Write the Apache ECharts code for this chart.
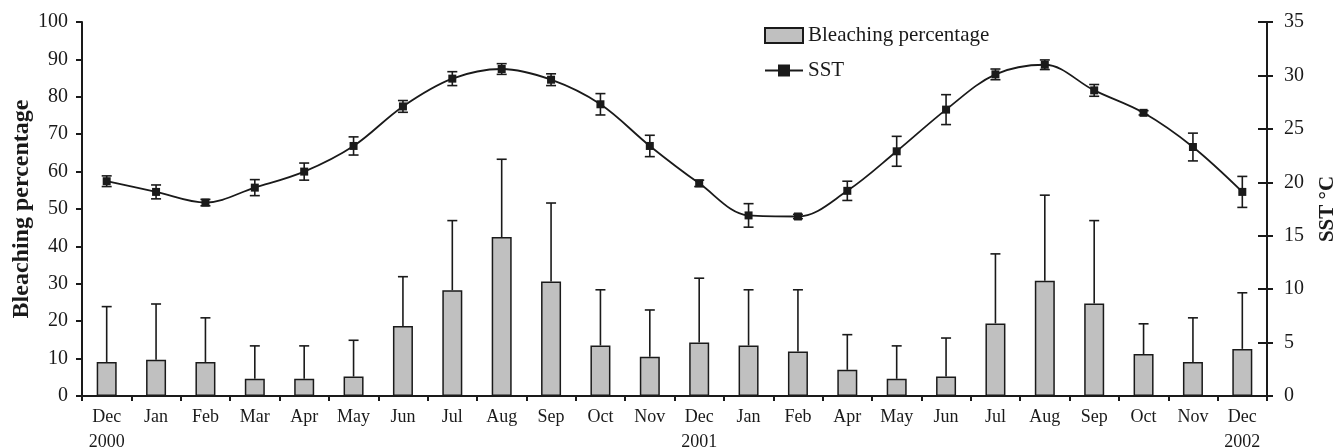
<!DOCTYPE html>
<html>
<head>
<meta charset="utf-8">
<script src="https://cdn.jsdelivr.net/npm/echarts@6/dist/echarts.min.js"></script>
<style>
  html, body { margin: 0; padding: 0; background: #fff; }
  #chart-container { width: 1337px; height: 448px; }
</style>
</head>
<body>
<div id="chart-container"></div>
<script>
var months = ['Dec\n2000', 'Jan', 'Feb', 'Mar', 'Apr', 'May', 'Jun', 'Jul', 'Aug', 'Sep', 'Oct', 'Nov',
  'Dec\n2001', 'Jan', 'Feb', 'Apr', 'May', 'Jun', 'Jul', 'Aug', 'Sep', 'Oct', 'Nov', 'Dec\n2002'];
var bleaching = [9.1, 9.7, 9.1, 4.6, 4.6, 5.2, 18.7, 28.3, 42.5, 30.6, 13.5, 10.5,
  14.3, 13.5, 11.9, 7.0, 4.6, 5.2, 19.4, 30.8, 24.7, 11.2, 9.1, 12.6];
var bleachingSd = [14.8, 14.9, 11.8, 8.8, 8.8, 9.7, 13.2, 18.6, 20.8, 21.0, 14.9, 12.5,
  17.2, 14.9, 16.5, 9.4, 8.8, 10.3, 18.6, 22.9, 22.2, 8.1, 11.8, 15.0];
var sst = [20.1, 19.1, 18.1, 19.5, 21.0, 23.4, 27.1, 29.7, 30.6, 29.6, 27.3, 23.4,
  19.9, 16.9, 16.8, 19.2, 22.9, 26.8, 30.1, 31.0, 28.6, 26.5, 23.3, 19.1];
var sstSd = [0.5, 0.65, 0.3, 0.75, 0.8, 0.85, 0.55, 0.65, 0.5, 0.55, 1.0, 1.0,
  0.3, 1.1, 0.2, 0.9, 1.4, 1.4, 0.5, 0.45, 0.55, 0.2, 1.3, 1.45];

var font = 'Liberation Serif';
var ink = '#1a1a1a';

var dom = document.getElementById('chart-container');
var myChart = echarts.init(dom, null, { renderer: 'canvas' });

// error bar data: [index, mean, sd]
var bleachErrData = bleaching.map(function (v, i) { return [i, v, bleachingSd[i]]; });
var sstErrData = sst.map(function (v, i) { return [i, v, sstSd[i]]; });

function errLine(x1, y1, x2, y2) {
  return { type: 'line', shape: { x1: x1, y1: y1, x2: x2, y2: y2 },
    style: { stroke: ink, lineWidth: 1.6 } };
}

function renderUpperErr(params, api) {
  var i = api.value(0), v = api.value(1), e = api.value(2);
  var p0 = api.coord([i, v]);
  var p1 = api.coord([i, v + e]);
  return { type: 'group', children: [
    errLine(p0[0], p0[1], p1[0], p1[1]),
    errLine(p1[0] - 5, p1[1], p1[0] + 5, p1[1])
  ] };
}

function renderBothErr(params, api) {
  var i = api.value(0), v = api.value(1), e = api.value(2);
  var lo = api.coord([i, v - e]);
  var hi = api.coord([i, v + e]);
  return { type: 'group', children: [
    errLine(lo[0], lo[1], hi[0], hi[1]),
    errLine(hi[0] - 5, hi[1], hi[0] + 5, hi[1]),
    errLine(lo[0] - 5, lo[1], lo[0] + 5, lo[1])
  ] };
}

var option = {
  animation: false,
  textStyle: { fontFamily: font },
  grid: { left: 82, right: 70, top: 22, bottom: 52, containLabel: false, outerBoundsMode: 'none' },
  legend: {
    orient: 'vertical',
    left: 759,
    top: 20,
    itemWidth: 38,
    itemHeight: 15,
    itemGap: 14,
    textStyle: { fontFamily: font, fontSize: 21, color: ink },
    data: [
      { name: 'Bleaching percentage', icon: 'rect' },
      { name: 'SST' }
    ]
  },
  xAxis: {
    type: 'category',
    data: months,
    boundaryGap: true,
    axisLine: { lineStyle: { color: ink, width: 2 } },
    axisTick: { show: true, length: 5, lineStyle: { color: ink, width: 2 } },
    axisLabel: { color: ink, fontFamily: font, fontSize: 18, lineHeight: 25, margin: 9, interval: 0 }
  },
  yAxis: [
    {
      type: 'value',
      min: 0, max: 100, interval: 10,
      name: 'Bleaching percentage',
      nameLocation: 'middle',
      nameGap: 48,
      nameMoveOverlap: false,
      nameTextStyle: { fontFamily: font, fontSize: 24, fontWeight: 'bold', color: ink },
      splitLine: { show: false },
      axisLine: { show: true, lineStyle: { color: ink, width: 2 } },
      axisTick: { show: true, length: 6, lineStyle: { color: ink, width: 2 } },
      axisLabel: { color: ink, fontFamily: font, fontSize: 20, margin: 14 }
    },
    {
      type: 'value',
      min: 0, max: 35, interval: 5,
      name: 'SST \u00B0C',
      nameLocation: 'middle',
      nameRotate: 90,
      nameGap: 50,
      nameMoveOverlap: false,
      nameTextStyle: { fontFamily: font, fontSize: 21, fontWeight: 'bold', color: ink },
      splitLine: { show: false },
      axisLine: { show: true, lineStyle: { color: ink, width: 2 } },
      axisTick: { show: true, length: 6, lineStyle: { color: ink, width: 2 } },
      axisLabel: { color: ink, fontFamily: font, fontSize: 20, margin: 17 }
    },
    {
      // inner half of the right-axis ticks (ticks cross the axis)
      type: 'value',
      position: 'right',
      min: 0, max: 35, interval: 5,
      splitLine: { show: false },
      axisLine: { show: false },
      axisTick: { show: true, inside: true, length: 9, lineStyle: { color: ink, width: 2 } },
      axisLabel: { show: false }
    }
  ],
  series: [
    {
      name: 'Bleaching percentage',
      type: 'bar',
      data: bleaching,
      barWidth: 20,
      itemStyle: { color: '#c0c0c0', borderColor: ink, borderWidth: 1.5 },
      z: 2
    },
    {
      name: 'bleachErr',
      type: 'custom',
      data: bleachErrData,
      renderItem: renderUpperErr,
      encode: { x: 0, y: 1 },
      z: 3
    },
    {
      name: 'sstErr',
      type: 'custom',
      yAxisIndex: 1,
      data: sstErrData,
      renderItem: renderBothErr,
      encode: { x: 0, y: 1 },
      z: 3
    },
    {
      name: 'SST',
      type: 'line',
      yAxisIndex: 1,
      data: sst,
      smooth: 0.35,
      symbol: 'rect',
      symbolSize: 8,
      lineStyle: { color: ink, width: 1.8 },
      itemStyle: { color: ink },
      z: 4
    }
  ]
};

myChart.setOption(option);
window.addEventListener('resize', myChart.resize);
</script>
</body>
</html>
